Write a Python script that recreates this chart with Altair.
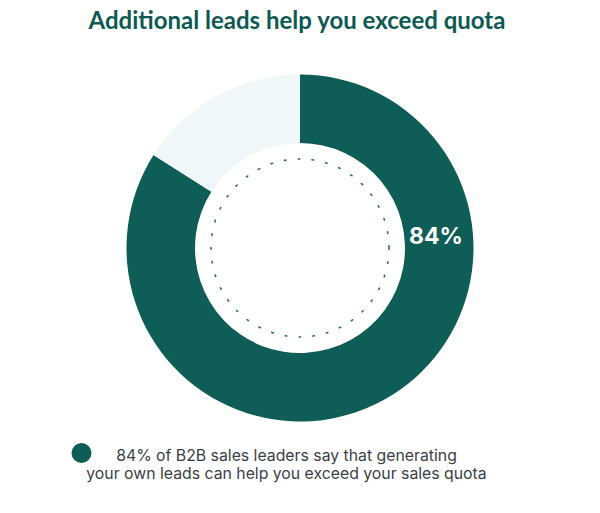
import altair as alt
import pandas as pd

categories = ["Generate own leads", "Other"]
values = [84, 16]
colors = ["#0e5e57", "#eff7f9"]
title_text = "Additional leads help you exceed quota"
label_text = ["84%"]
legend_lines = ["84% of B2B sales leaders say that generating",
                "your own leads can help you exceed your sales quota"]

df = pd.DataFrame({"category": categories, "value": values, "order": [0, 1]})

CX, CY = 292, 240

color_scale = alt.Scale(domain=categories, range=colors)

donut = alt.Chart(df).mark_arc(outerRadius=173.5, innerRadius=105, strokeWidth=0).encode(
    theta=alt.Theta("value:Q", stack=True),
    color=alt.Color("category:N", scale=color_scale, legend=None),
    order=alt.Order("order:Q"),
    x=alt.value(CX), y=alt.value(CY),
)

one = pd.DataFrame({"t": [0]})

dots = alt.Chart(one).mark_point(
    shape="circle", filled=False, size=178 * 178, stroke="#0e5e57",
    strokeWidth=1.6, strokeDash=[1.5, 12.4], strokeCap="round", opacity=0.9,
).encode(x=alt.value(CX), y=alt.value(CY))

label = alt.Chart(pd.DataFrame({"t": label_text})).mark_text(
    font="Inter", fontSize=23, fontWeight="bold", color="white",
    align="center", baseline="middle",
).encode(text="t:N", x=alt.value(428), y=alt.value(229))

title = alt.Chart(pd.DataFrame({"t": [title_text]})).mark_text(
    font="Lato", fontSize=24, fontWeight="bold", color="#0e5a53",
    align="center", baseline="alphabetic",
).encode(text="t:N", x=alt.value(289), y=alt.value(21))

legend_dot = alt.Chart(pd.DataFrame({"c": [categories[0]]})).mark_point(
    shape="circle", filled=True, size=400, opacity=1,
).encode(color=alt.Color("c:N", scale=color_scale, legend=None),
         x=alt.value(73.5), y=alt.value(445))

legend_text = alt.Chart(pd.DataFrame({"t": ["\n".join(legend_lines)]})).mark_text(
    font="Inter", fontSize=15.8, color="#3a3f47", align="center",
    baseline="alphabetic", lineBreak="\n", lineHeight=18.5,
).encode(text="t:N", x=alt.value(278.5), y=alt.value(452.7))

chart = alt.layer(donut, dots, label, title, legend_dot, legend_text).properties(
    width=584, height=497,
    autosize=alt.AutoSizeParams(type="none"),
    padding=0,
).configure_view(strokeWidth=0)

chart.save("out.html", embed_options={"renderer": "svg", "actions": False})
